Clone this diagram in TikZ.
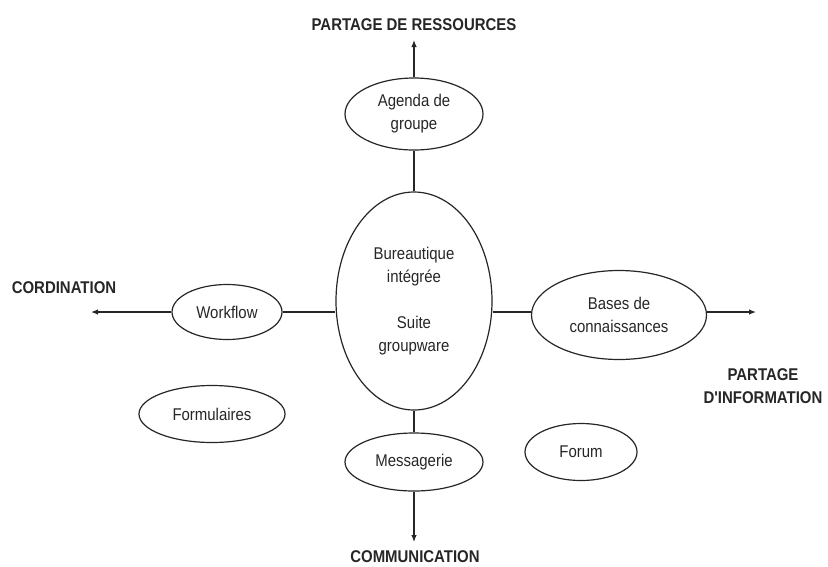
\documentclass[tikz,border=0pt]{standalone}
\usepackage{fontspec}
\newfontfamily\labfont[FakeStretch=0.88]{Liberation Sans}
\usetikzlibrary{shapes.geometric,arrows.meta}
\begin{document}
\begin{tikzpicture}[x=1pt,y=-1pt,
  every node/.style={font=\labfont\fontsize{17}{23}\selectfont, text=black!85},
  bubble/.style={ellipse, draw=black!85, line width=1.2pt, inner sep=0pt, align=center},
  axislabel/.style={font=\labfont\bfseries\fontsize{17}{23}\selectfont, align=center, inner sep=0pt},
  link/.style={draw=black!85, line width=1.2pt},
  axis/.style={link, -{Latex[length=7pt,width=5.5pt]}}]
\useasboundingbox (0,0) rectangle (828,566);

% central bubble and the four satellites on the axes
\node[bubble, minimum width=156pt, minimum height=218pt] (central) at (414,301)
  {Bureautique\\intégrée\\[23pt]Suite\\groupware};
\node[bubble, minimum width=138pt, minimum height=72pt] (agenda) at (414,114) {Agenda de\\groupe};
\node[bubble, minimum width=110pt, minimum height=55pt] (workflow) at (227,312) {Workflow};
\node[bubble, minimum width=175pt, minimum height=89pt] (bases) at (619,315) {Bases de\\connaissances};
\node[bubble, minimum width=138pt, minimum height=58pt] (messagerie) at (414,462) {Messagerie};

% loose bubbles
\node[bubble, minimum width=146pt, minimum height=57pt] (formulaires) at (212,414) {Formulaires};
\node[bubble, minimum width=112pt, minimum height=57pt] (forum) at (581,452) {Forum};

% axis labels
\node[axislabel] (ressources) at (414,25) {PARTAGE DE RESSOURCES};
\node[axislabel] (cordination) at (64,288) {CORDINATION};
\node[axislabel] (information) at (763,386) {PARTAGE\\D'INFORMATION};
\node[axislabel] (communication) at (415,557) {COMMUNICATION};

% free ends of the axes
\coordinate (topend) at (414,40);
\coordinate (leftend) at (91,312);
\coordinate (rightend) at (756,312);
\coordinate (bottomend) at (414,542);

% links between the bubbles
\draw[link] (agenda.south) -- (central.north);
\draw[link] (messagerie.north) -- (central.south);
\draw[link] (workflow.east) -- (workflow.east -| central.west);
\draw[link] (bases.west |- workflow.east) -- (central.east |- workflow.east);

% axes
\draw[axis] (agenda.north) -- (topend);
\draw[axis] (workflow.west) -- (leftend);
\draw[axis] (bases.east |- rightend) -- (rightend);
\draw[axis] (messagerie.south) -- (bottomend);
\end{tikzpicture}
\end{document}
